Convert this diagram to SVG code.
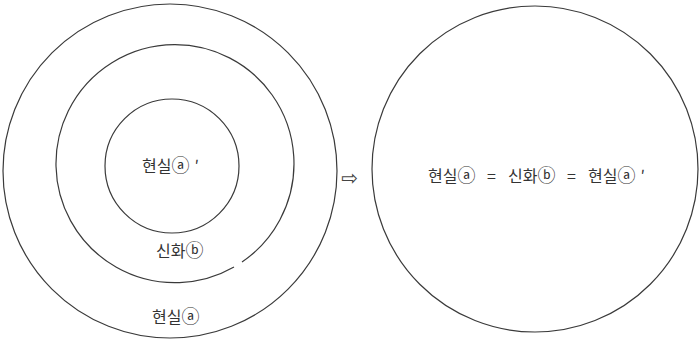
<svg xmlns="http://www.w3.org/2000/svg" width="699" height="340" viewBox="0 0 699 340">
<style>
.c{fill:none;stroke:#3a3a3a;stroke-width:1.2}
.t{font-family:"Noto Sans CJK KR","Noto Sans",sans-serif;font-size:16px;fill:#333}
.k{font-size:18px}
.ar{font-family:"DejaVu Sans",sans-serif;font-size:20px;fill:#444}
</style>
<rect width="699" height="340" fill="#fff"/>
<g id="outer-left"><circle class="c" cx="170" cy="171" r="167"/></g>
<g id="middle-left">
<path class="c" d="M 234 267 A 119 119 0 1 1 242 262"/>
</g>
<g id="inner-left"><circle class="c" cx="172" cy="166" r="67"/></g>
<g id="right-circle"><circle class="c" cx="535" cy="169" r="163"/></g>
<g id="labels">
<text class="t" x="142" y="172">현실<tspan class="k">ⓐ</tspan><tspan dx="5">′</tspan></text>
<text class="t" x="156" y="257">신화<tspan class="k">ⓑ</tspan></text>
<text class="t" x="152" y="323">현실<tspan class="k">ⓐ</tspan></text>
<text class="ar" x="341" y="185">⇨</text>
<text class="t" x="428" y="182">현실<tspan class="k">ⓐ</tspan></text>
<text class="t" x="487" y="182">=</text>
<text class="t" x="508" y="182">신화<tspan class="k">ⓑ</tspan></text>
<text class="t" x="567" y="182">=</text>
<text class="t" x="588" y="182">현실<tspan class="k">ⓐ</tspan><tspan dx="5">′</tspan></text>
</g>
</svg>
